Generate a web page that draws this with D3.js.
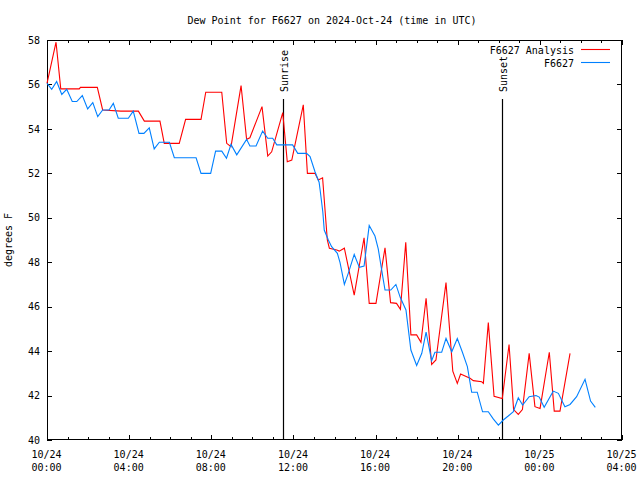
<!DOCTYPE html>
<html><head><meta charset="utf-8">
<script src="https://cdn.jsdelivr.net/npm/d3@7"></script>
<style>
body{margin:0;background:#fff;}
text{font-family:"DejaVu Sans Mono",monospace;font-size:10px;fill:#000;}
</style></head>
<body><svg id="c" width="640" height="480"></svg>
<script>
const titleText = "Dew Point for F6627 on 2024-Oct-24 (time in UTC)";
const yLabel = "degrees F";
const seriesNames = ["F6627 Analysis", "F6627"];
const yTicks = [40,42,44,46,48,50,52,54,56,58];
// hours since 2024-10-24 00:00 UTC
const analysisHours = [0,0.44,0.67,1.57,1.63,2.45,2.71,3.6,4.45,4.74,5.5,5.71,6.44,6.75,7.5,7.73,8.51,8.75,8.96,9.45,9.72,9.88,10.47,10.75,10.94,11.48,11.7,11.92,12.48,12.68,13.05,13.21,13.42,13.65,13.75,14.11,14.23,14.48,14.96,15.44,15.69,16.02,16.46,16.73,17.02,17.21,17.47,17.72,18.0,18.21,18.46,18.73,18.94,19.43,19.76,19.98,20.14,20.6,20.76,21.17,21.25,21.49,21.77,22.17,22.5,22.72,22.95,23.15,23.48,23.76,24.01,24.46,24.7,24.98,25.47];
const analysisValues = [56.05,57.9,55.8,55.8,55.87,55.87,54.85,54.8,54.8,54.35,54.35,53.35,53.35,54.43,54.43,55.65,55.65,53.35,53.2,55.95,53.53,53.6,55.0,52.78,52.97,54.73,52.52,52.6,55.08,52.0,52.0,51.7,51.8,49.0,48.63,48.55,48.5,48.63,46.52,49.1,46.15,46.15,48.65,46.18,46.15,45.88,48.9,44.73,44.73,44.4,46.38,43.4,43.6,47.08,43.1,42.55,42.97,42.78,42.67,42.62,42.55,45.28,41.97,41.87,44.3,41.37,41.15,41.37,43.9,41.5,41.42,43.95,41.3,41.3,43.9];
const obsHours = [0,0.23,0.47,0.72,0.96,1.23,1.45,1.72,1.98,2.23,2.47,2.71,3.02,3.23,3.47,3.96,4.2,4.48,4.72,4.98,5.22,5.47,5.96,6.2,7.26,7.5,7.97,8.21,8.51,8.74,8.96,9.24,9.72,9.88,10.18,10.5,10.75,10.99,11.19,11.96,12.21,12.64,12.81,13.05,13.25,13.3,13.43,13.5,13.7,13.86,14.14,14.27,14.48,14.67,14.96,15.21,15.44,15.69,15.97,16.13,16.35,16.46,16.74,16.99,17.2,17.48,17.72,18.0,18.25,18.46,18.73,18.89,19.22,19.43,19.71,19.98,20.22,20.47,20.68,20.95,21.21,21.49,21.73,21.98,22.22,22.46,22.71,22.95,23.16,23.48,23.81,23.97,24.21,24.65,24.9,25.22,25.47,25.79,26.2,26.47,26.7];
const obsValues = [56.05,55.78,56.13,55.55,55.78,55.23,55.23,55.5,54.9,55.18,54.55,54.85,54.85,55.15,54.48,54.48,54.8,53.8,53.8,54.05,53.1,53.4,53.4,52.7,52.7,52.0,52.0,53.0,53.0,52.68,53.3,52.83,53.53,53.23,53.23,53.9,53.58,53.58,53.28,53.28,52.9,52.9,52.75,52.07,51.6,51.25,50.27,49.45,49.0,48.7,48.4,47.98,47.0,47.5,48.35,47.77,47.83,49.65,49.18,48.6,47.35,46.75,46.75,47.0,46.42,45.85,44.05,43.35,43.9,44.85,43.57,43.95,43.95,44.57,43.97,44.57,43.97,43.3,42.15,42.15,41.27,41.27,40.95,40.67,40.9,41.08,41.28,41.9,41.57,41.95,42.0,41.93,41.47,42.2,42.1,41.5,41.6,41.95,42.73,41.75,41.47];
const sunEvents = ["Sunrise","Sunset"];
const sunHours = [11.49, 22.18];
const colors = ["#ff0000","#0080ff"];

const base = Date.UTC(2024,9,24);
const toDate = h => new Date(base + h*3600000);
const L=47,R=622,T=40,B=440;
const svg = d3.select("#c");
const x = d3.scaleUtc().domain([toDate(0), toDate(28)]).range([L,R]);
const y = d3.scaleLinear().domain([40,58]).range([B,T]);

// title
svg.append("text").attr("x",332).attr("y",20).attr("dy","0.35em").attr("text-anchor","middle").text(titleText);
svg.append("text").attr("transform","translate(8,240) rotate(-90)").attr("text-anchor","middle").attr("dy","0.35em").text(yLabel);

const hourTicks = d3.range(0,29).map(toDate);
const isMajor = d => d.getUTCHours()%4===0;
const fmtD = d3.utcFormat("%m/%d"), fmtT = d3.utcFormat("%H:%M");

function xAxis(g, bottom){
  const ax = (bottom? d3.axisBottom(x): d3.axisTop(x)).tickValues(hourTicks).tickSize(-3).tickFormat("");
  g.call(ax);
  g.select(".domain").remove();
  g.selectAll(".tick line").attr("y2", d => (bottom?-1:1)*(isMajor(d)?5:3)).attr("stroke","#000").attr("shape-rendering","crispEdges");
}
const gxb = svg.append("g").attr("transform",`translate(0,${B})`).call(g=>xAxis(g,true));
gxb.selectAll(".tick").filter(isMajor).each(function(d){
  const t = d3.select(this).select("text").attr("y",0).attr("dy",null).attr("fill","#000")
    .style("font-family","DejaVu Sans Mono").style("font-size","10px");
  t.append("tspan").attr("x",-1).attr("y",14.5).attr("dy","0.35em").text(fmtD(d));
  t.append("tspan").attr("x",-1).attr("y",27).attr("dy","0.35em").text(fmtT(d));
});
svg.append("g").attr("transform",`translate(0,${T})`).call(g=>xAxis(g,false));

const gyl = svg.append("g").attr("transform",`translate(${L},0)`)
  .call(d3.axisLeft(y).tickValues(yTicks).tickSize(-5).tickPadding(7).tickFormat(d3.format("d")));
gyl.select(".domain").remove();
gyl.selectAll(".tick line").attr("stroke","#000").attr("shape-rendering","crispEdges");
gyl.selectAll("text").attr("fill","#000").style("font-family","DejaVu Sans Mono").style("font-size","10px");
const gyr = svg.append("g").attr("transform",`translate(${R},0)`)
  .call(d3.axisRight(y).tickValues(yTicks).tickSize(-5).tickFormat(""));
gyr.select(".domain").remove();
gyr.selectAll(".tick line").attr("stroke","#000").attr("shape-rendering","crispEdges");

// frame
svg.append("rect").attr("x",L+0.5).attr("y",T+0.5).attr("width",R-L-1).attr("height",B-T-1)
  .attr("fill","none").attr("stroke","#000");

// sun lines
sunHours.forEach((h,i)=>{
  const xx = Math.round(x(toDate(h)))+0.5;
  svg.append("line").attr("x1",xx).attr("x2",xx).attr("y1",99).attr("y2",B).attr("stroke","#000").attr("stroke-width",1.2);
  svg.append("text").attr("transform",`translate(${xx+1},92) rotate(-90)`).attr("dy","0.35em").text(sunEvents[i]);
});

const line = d3.line().x(d=>x(toDate(d[0]))).y(d=>y(d[1]));
const series = [d3.zip(analysisHours, analysisValues), d3.zip(obsHours, obsValues)];
series.forEach((s,i)=>{
  svg.append("path").datum(s).attr("d",line).attr("fill","none").attr("stroke",colors[i]).attr("stroke-width",1.1);
});

// legend
const legY=[50,63];
seriesNames.forEach((n,i)=>{
  svg.append("text").attr("x",574).attr("y",legY[i]).attr("dy","0.35em").attr("text-anchor","end").text(n);
  svg.append("line").attr("x1",581).attr("x2",610).attr("y1",legY[i]-0.5).attr("y2",legY[i]-0.5).attr("stroke",colors[i]).attr("stroke-width",1.1);
});
</script></body></html>
